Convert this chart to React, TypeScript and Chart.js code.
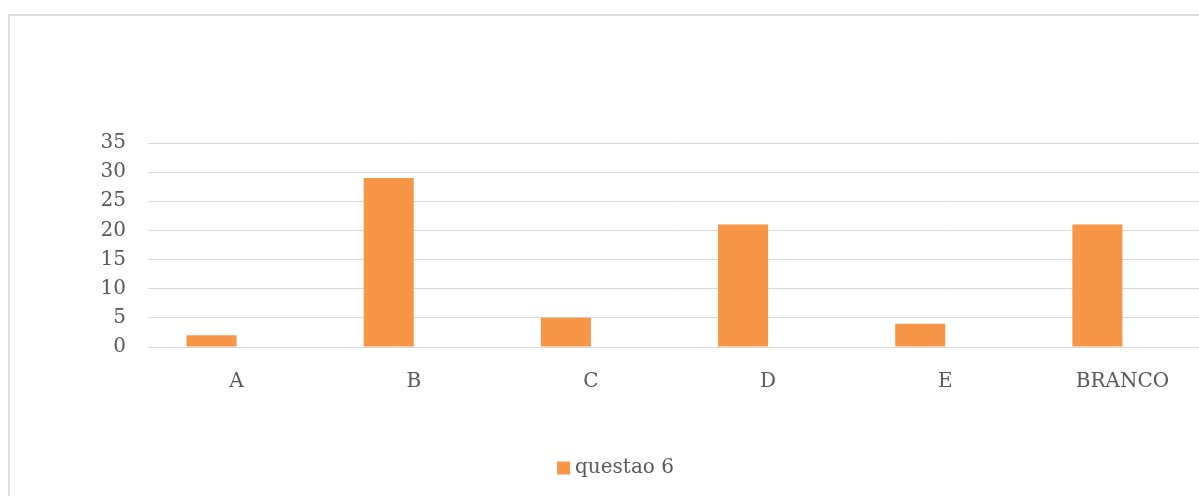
import React, { useEffect, useRef } from "react";
import { Chart, registerables } from "chart.js";

Chart.register(...registerables);

const categories = ["A", "B", "C", "D", "E", "BRANCO"];
const seriesName = "questao 6";
const seriesValues = [2, 29, 5, 21, 4, 21];
// Empty companion series keeps the bars in the left half of each slot
const emptyValues = [null, null, null, null, null, null];
const yTicks = [0, 5, 10, 15, 20, 25, 30, 35];

const FONT = "'DejaVu Serif', serif";
const TEXT = "#595959";
const GRID = "#D9D9D9";
const ORANGE = "#F79646";

export default function App() {
  const canvasRef = useRef<HTMLCanvasElement | null>(null);

  useEffect(() => {
    if (!canvasRef.current) return;
    const chart = new Chart(canvasRef.current, {
      type: "bar",
      data: {
        labels: categories,
        datasets: [
          {
            label: seriesName,
            data: seriesValues,
            backgroundColor: ORANGE,
            borderWidth: 0,
            categoryPercentage: 0.565,
            barPercentage: 1,
          },
          {
            label: "",
            data: emptyValues as any,
            backgroundColor: "rgba(0,0,0,0)",
            categoryPercentage: 0.565,
            barPercentage: 1,
          },
        ],
      },
      options: {
        responsive: false,
        animation: false,
        devicePixelRatio: 1,
        layout: { padding: { top: 143, left: 25, right: 14, bottom: 8 } },
        plugins: {
          tooltip: { enabled: false },
          legend: {
            display: true,
            position: "bottom",
            labels: {
              filter: (item) => item.datasetIndex === 0,
              usePointStyle: true,
              pointStyle: "rect",
              boxWidth: 3,
              boxHeight: 13,
              color: TEXT,
              font: { family: FONT, size: 20 },
              padding: 10,
            },
          },
        },
        scales: {
          x: {
            grid: { display: false, drawTicks: false },
            border: { display: true, color: GRID, width: 1 },
            ticks: { color: TEXT, font: { family: FONT, size: 20 }, padding: 23 },
            afterFit: (scale: any) => {
              scale.height = 101;
            },
          },
          y: {
            min: 0,
            max: 35,
            afterBuildTicks: (scale: any) => {
              scale.ticks = yTicks.map((v) => ({ value: v }));
            },
            grid: { color: GRID, lineWidth: 1, drawTicks: false },
            border: { display: false },
            ticks: { color: TEXT, font: { family: FONT, size: 20 }, padding: 22 },
            afterFit: (scale: any) => {
              scale.width = 123;
            },
          },
        },
      },
    });
    return () => chart.destroy();
  }, []);

  return (
    <div
      style={{
        position: "fixed",
        left: 0,
        top: 0,
        width: 1199,
        height: 496,
        overflow: "hidden",
        background: "#ffffff",
      }}
    >
      <div
        style={{
          position: "absolute",
          left: 8,
          top: 14,
          width: 1300,
          height: 600,
          border: "2px solid #DEDEDE",
        }}
      />
      <canvas
        ref={canvasRef}
        width={1225}
        height={496}
        style={{ position: "absolute", left: 0, top: 0, width: 1225, height: 496 }}
      />
    </div>
  );
}
